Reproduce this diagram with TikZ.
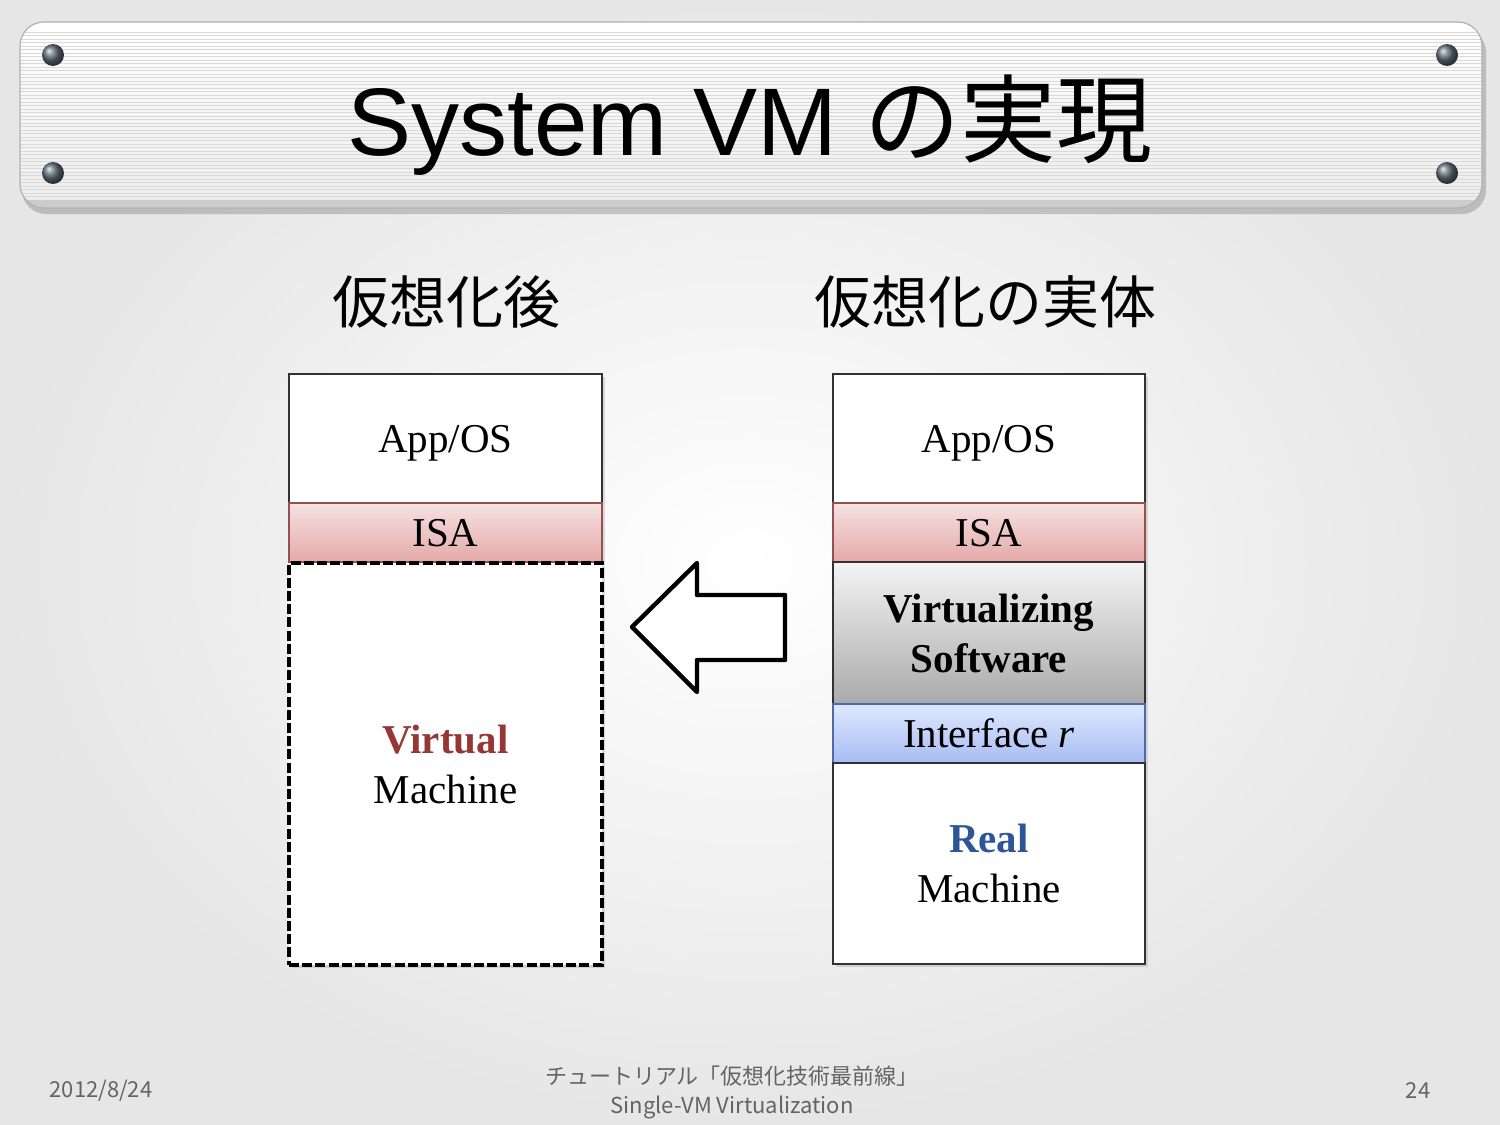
\documentclass[tikz,border=0pt]{standalone}
\usepackage{fontspec}
\newfontfamily\cjk{Noto Sans CJK JP}
\newfontfamily\arialf{Liberation Sans}
\newfontfamily\timesf{Liberation Serif}
\usetikzlibrary{shadows}
\definecolor{bgout}{RGB}{230,230,230}
\definecolor{boltc}{RGB}{95,110,120}
\definecolor{isatop}{RGB}{246,226,226}
\definecolor{isabot}{RGB}{228,168,168}
\definecolor{isaline}{RGB}{150,80,80}
\definecolor{vstop}{RGB}{244,244,244}
\definecolor{vsbot}{RGB}{170,170,170}
\definecolor{iftop}{RGB}{222,232,255}
\definecolor{ifbot}{RGB}{168,188,242}
\definecolor{ifline}{RGB}{80,105,170}
\definecolor{vmred}{RGB}{149,55,53}
\definecolor{rmblue}{RGB}{46,85,151}
\definecolor{foot}{RGB}{100,100,100}
\begin{document}
\begin{tikzpicture}[x=0.5pt,y=-0.5pt,
  layer/.style={draw={rgb,255:red,50;green,50;blue,50}, line width=0.8pt, inner sep=0pt,
     font=\timesf\fontsize{20.5}{25}\selectfont,
     drop shadow={shadow xshift=1.5pt, shadow yshift=-1.5pt, opacity=0.25}},
  lbox/.style={layer, minimum width=156.5pt},
  rbox/.style={layer, minimum width=156pt},
  oneline/.style={text height=14pt, text depth=0pt},
  isabox/.style={top color=isatop, bottom color=isabot, draw=isaline},
  heading/.style={font=\cjk\fontsize{28.5}{34}\selectfont},
  footer/.style={font=\cjk\fontsize{11}{13}\selectfont, text=foot}]
\useasboundingbox (0,0) rectangle (1500,1125);
% background
\shade[inner color=white, outer color=bgout] (0,0) rectangle (1500,1125);
% title plate
\fill[black, opacity=0.18, rounded corners=12pt] (22,28) rectangle (1486,214);
\shade[top color=white, bottom color={rgb,255:red,236;green,236;blue,236}, rounded corners=12pt] (20,22) rectangle (1482,208);
\begin{scope}
\clip[rounded corners=12pt] (20,22) rectangle (1482,208);
\foreach \yy in {32,35.5,...,200} \draw[gray!30, line width=0.5pt] (20,\yy) -- (1482,\yy);
\fill[gray!40] (20,200) rectangle (1482,208);
\end{scope}
\draw[gray!60, line width=0.6pt, rounded corners=12pt] (20,22) rectangle (1482,208);
\foreach \bx/\by in {53/55,53/173,1447/55,1447/173}
  \shade[ball color=boltc] (\bx,\by) circle (5.5pt);
% title
\node[font=\fontsize{48}{58}\selectfont] (title) at (750,125) {\arialf System VM \cjk の実現};
% headings
\node[heading] (h1) at (446,302) {仮想化後};
\node[heading] (h2) at (985,302) {仮想化の実体};
% left stack
\node[lbox, oneline, fill=white, minimum height=64.5pt] (lapp) at (445.5,438.5) {App/OS};
\node[lbox, oneline, isabox, minimum height=29.5pt] (lisa) at (445.5,532.5) {ISA};
\node[lbox, align=center, fill=white, draw=black, line width=2pt, dash pattern=on 5pt off 1.6pt, minimum height=201pt] (lvm) at (445.5,764)
      {{\bfseries\color{vmred}Virtual}\\Machine};
% right stack
\node[rbox, oneline, fill=white, minimum height=64.5pt] (rapp) at (989,438.5) {App/OS};
\node[rbox, oneline, isabox, minimum height=29.5pt] (risa) at (989,532.5) {ISA};
\node[rbox, align=center, top color=vstop, bottom color=vsbot, minimum height=71pt,
      font=\timesf\bfseries\fontsize{20.5}{25}\selectfont] (rvs) at (989,633) {Virtualizing\\Software};
\node[rbox, oneline, top color=iftop, bottom color=ifbot, draw=ifline, minimum height=29.5pt] (rif) at (989,733.5) {Interface \textit{r}};
\node[rbox, align=center, fill=white, minimum height=100.5pt] (rrm) at (989,863.5) {{\bfseries\color{rmblue}Real}\\Machine};
% arrow
\draw[line width=2.2pt, line join=round, fill=white] (632,627) -- (697,563) -- (697,595) -- (785,595) -- (785,660) -- (697,660) -- (697,692) -- cycle;
% footer
\node[footer] (fdate) at (101,1091) {2012/8/24};
\node[footer] (ftitle) at (732,1076) {チュートリアル「仮想化技術最前線」};
\node[footer] (fsub) at (732,1107) {Single-VM Virtualization};
\node[footer] (fpage) at (1418,1091) {24};
\end{tikzpicture}
\end{document}
